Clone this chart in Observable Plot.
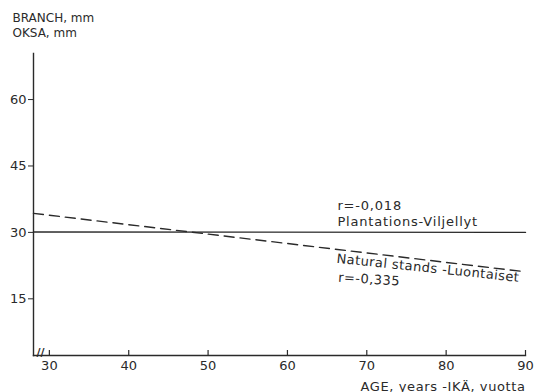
<!DOCTYPE html>
<html>
<head>
<meta charset="utf-8">
<script src="https://cdn.jsdelivr.net/npm/d3@7"></script>
<script src="https://cdn.jsdelivr.net/npm/@observablehq/plot@0.6"></script>
<style>
  html, body { margin: 0; padding: 0; background: #fff; }
  #chart { width: 542px; height: 392px; }
  svg { font-family: "DejaVu Sans", Roboto, sans-serif; }
</style>
</head>
<body>
<div id="chart"></div>
<script>
// Regression lines of branch diameter (mm) against stand age
const ages = [28, 90];
const plantations = [30.1, 30.0];   // r = -0,018
const natural = [34.3, 21.1];       // r = -0,335

const xTicks = [30, 40, 50, 60, 70, 80, 90];
const yTicks = [15, 30, 45, 60];

const yTitle = ["BRANCH, mm", "OKSA, mm"];
const xTitle = "AGE, years -IKÄ, vuotta";

// Line annotations: label, anchor age, anchor branch value, rotation
const plantLabels = [
  {text: "r=-0,018", x: 66.3, y: 36.0, rotate: 0},
  {text: "Plantations-Viljellyt", x: 66.3, y: 32.3, rotate: 0}
];
const naturalLabels = [
  {text: "Natural stands -Luontaiset", x: 66.2, y: 24.1, rotate: 6},
  {text: "r=-0,335", x: 66.4, y: 19.8, rotate: 3.5}
];

const rowsP = ages.map((a, i) => ({age: a, v: plantations[i]}));
const rowsN = ages.map((a, i) => ({age: a, v: natural[i]}));

const ink = "#2a2a2a";

// widen the typewriter-like lettering of a text mark
const spaced = (px) => (index, scales, values, dims, context, next) => {
  const g = next(index, scales, values, dims, context);
  d3.select(g).attr("letter-spacing", px);
  return g;
};

const chart = Plot.plot({
  width: 542,
  height: 392,
  marginLeft: 33,
  marginRight: 17,
  marginTop: 53,
  marginBottom: 37,
  style: {fontSize: "13px", color: ink, background: "#fff"},
  x: {domain: [28, 90]},
  y: {domain: [2.2, 70.4]},
  marks: [
    Plot.frame({anchor: "left", stroke: ink, strokeWidth: 1.4}),
    Plot.frame({anchor: "bottom", stroke: ink, strokeWidth: 1.4}),
    Plot.axisY({ticks: yTicks, tickSize: 5, tickPadding: 2, label: null, fontSize: 13, stroke: ink}),
    Plot.axisX({ticks: xTicks, tickSize: 0, tickPadding: 5, label: null, fontSize: 13}),
    // x ticks point up into the plot
    Plot.tickX(xTicks, {x: d => d, stroke: ink, strokeWidth: 1.2,
      render: (index, scales, values, dims, context, next) => {
        const g = next(index, scales, values, dims, context);
        d3.select(g).selectAll("line")
          .attr("y1", dims.height - dims.marginBottom - 5)
          .attr("y2", dims.height - dims.marginBottom);
        return g;
      }}),
    // axis break marks
    Plot.text(["//"], {frameAnchor: "bottom-left", dx: 3, dy: 0, text: d => d, fontSize: 11,
      fontWeight: "bold", fill: ink, textAnchor: "start"}),
    Plot.lineY(rowsP, {x: "age", y: "v", stroke: ink, strokeWidth: 1.4}),
    Plot.lineY(rowsN, {x: "age", y: "v", stroke: ink, strokeWidth: 1.4, strokeDasharray: "10,6"}),
    Plot.text(plantLabels, {x: "x", y: "y", text: "text", textAnchor: "start", fontSize: 13,
      fill: ink, render: spaced(0.8)}),
    Plot.text(naturalLabels, {x: "x", y: "y", text: "text", textAnchor: "start", fontSize: 13,
      fill: ink, rotate: "rotate", render: spaced(0.45)}),
    Plot.text([yTitle.join("\n")], {frameAnchor: "top-left", dx: -21, dy: -42, text: d => d,
      textAnchor: "start", fontSize: 12, lineHeight: 1.25, fill: ink, lineAnchor: "top"}),
    Plot.text([xTitle], {frameAnchor: "bottom-right", dx: 0, dy: 35, text: d => d,
      textAnchor: "end", fontSize: 13, fill: ink, lineAnchor: "bottom", render: spaced(0.6)})
  ]
});
document.getElementById("chart").appendChild(chart);
</script>
</body>
</html>
